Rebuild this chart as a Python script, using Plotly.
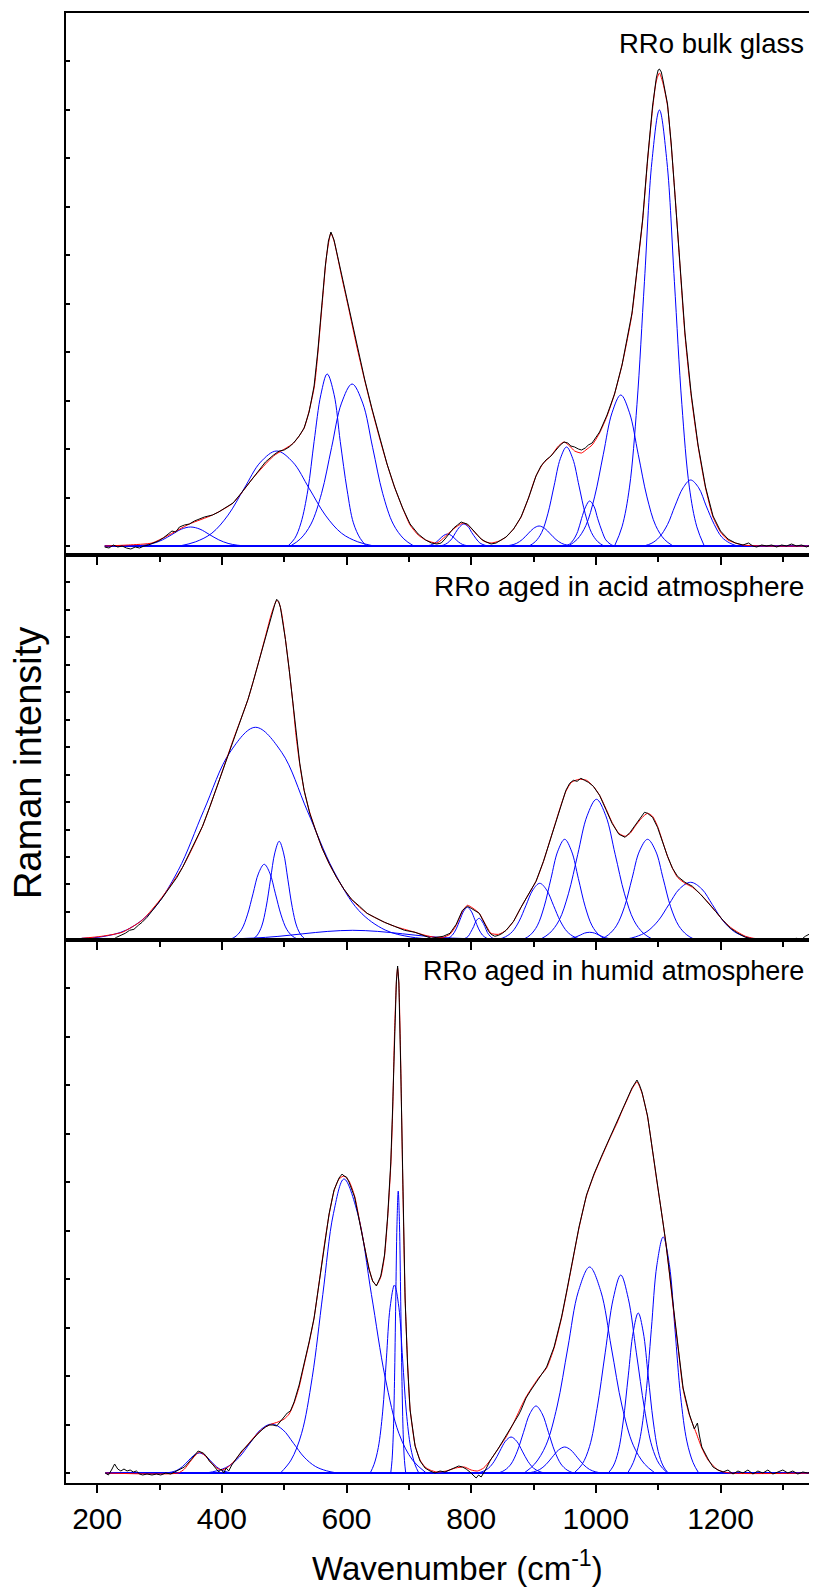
import plotly.graph_objects as go

# ---------------- data (x in cm-1, y in arbitrary intensity units) ----------------
X_TICKS = [200, 400, 600, 800, 1000, 1200]
PANEL_LABELS = ["RRo bulk glass", "RRo aged in acid atmosphere", "RRo aged in humid atmosphere"]

# ---- panel 1 : bulk glass ----
BULK_RAW = [(212,-1),(219,-2),(226,1),(233,-1),(240,0),(247,-2),(254,-3),(261,-1),(268,-2),(275,0),(282,1),(290,3),
            (298,5),(306,8),(312,11),(320,15),(326,14),(332,19),(340,21),(348,22),(356,25),(364,27),(372,29),(385,31),
            (395,34),(405,38),(418,43),(430,52),(440,60),(450,68),(460,76),(470,84),(483,91),(492,95),(500,96),(508,99),
            (515,103),(524,110),(532,118),(540,134),(548,160),(554,195),(560,238),(566,280),(571,305),(575,314),(580,306),
            (586,289),(592,271),(598,254),(604,237),(616,202),(629,167),(641,137),(653,109),(665,82),(677,59),(690,38),
            (702,22),(715,12),(727,6),(736,3),(745,2),(752,3),(758,7),(766,13),(772,18),(778,21),(784,24),(788,23),
            (794,22),(800,18),(808,12),(816,7),(824,4),(832,2),(840,3),(848,6),(856,9),(868,17),(880,29),(892,48),
            (904,70),(912,80),(920,86),(928,90),(936,96),(943,101),(949,104),(955,103),(960,100),(966,99),(972,97),
            (977,96),(983,98),(988,101),(994,103),(1006,114),(1018,131),(1030,152),(1042,181),(1050,207),(1058,233),
            (1066,276),(1075,326),(1083,387),(1091,440),(1097,468),(1100,476),(1102,477),(1105,474),(1108,465),
            (1115,442),(1121,402),(1128,345),(1135,282),(1143,213),(1153,152),(1164,101),(1176,59),(1188,30),
            (1200,15),(1212,7),(1224,3),(1236,1),(1245,3),(1252,0),(1258,-1),(1266,1),(1274,0),(1282,1),(1290,-1),
            (1298,1),(1306,0),(1314,2),(1322,0),(1330,1),(1338,-1),(1345,1),(1350,0)]
BULK_FIT = [(212,0),(250,1),(288,3),(312,10),(348,22),(385,31),(418,43),(450,68),(483,90),(515,103),(532,118),
            (548,158),(560,235),(568,290),(575,313),(580,305),(586,288),(592,270),(598,253),(604,236),(616,201),
            (629,166),(641,136),(653,108),(665,82),(677,59),(690,38),(702,21),(715,11),(727,6),(745,3),(766,14),
            (778,20),(788,23),(798,19),(808,12),(820,5),(832,3),(845,5),(856,9),(868,17),(880,29),(892,48),(904,70),
            (916,83),(928,90),(940,100),(949,104),(958,100),(966,95),(977,93),(986,97),(994,101),(1006,113),(1018,130),
            (1030,152),(1042,181),(1050,205),(1058,232),(1066,275),(1075,325),(1083,385),(1091,437),(1097,465),
            (1102,473),(1108,462),(1115,440),(1121,400),(1128,343),(1135,280),(1143,211),(1153,150),(1164,100),
            (1176,58),(1188,29),(1200,14),(1212,6),(1236,1),(1350,0)]
BULK_BANDS = [
    ([260,275,290,305,320,335,350,365,380,395,410,425,440],[0,0.8,2.6,6.2,11.5,16.8,19,16.8,11.5,6.2,2.6,0.8,0]),
    ([332,358,384,410,436,462,488,514,540,566,592,618,644],[0,4.2,12.8,30.9,57.7,83.8,95,83.8,57.7,30.9,12.8,4.2,0]),
    ([506,517,527,538,548,559,569,580,590,601,611,622,632],[0,7.6,23.2,55.9,104.4,151.7,172,151.7,104.4,55.9,23.2,7.6,0]),
    ([510,526,543,560,576,592,609,626,642,658,675,692,708],[0,7.1,21.9,52.7,98.3,142.9,162,142.9,98.3,52.7,21.9,7.1,0]),
    ([726,732,738,744,750,756,762,768,774,780,786,792,798],[0,0.5,1.6,3.9,7.3,10.6,12,10.6,7.3,3.9,1.6,0.5,0]),
    ([749,756,762,769,775,782,788,795,801,808,814,821,827],[0,1,3,7.2,13.4,19.4,22,19.4,13.4,7.2,3,1,0]),
    ([855,864,873,882,891,900,909,918,927,936,945,954,963],[0,0.9,2.7,6.5,12.1,17.6,20,17.6,12.1,6.5,2.7,0.9,0]),
    ([893,903,913,923,933,943,953,963,973,983,993,1003,1013],[0,4.4,13.4,32.2,60.1,87.3,99,87.3,60.1,32.2,13.4,4.4,0]),
    ([951,958,964,971,977,984,990,997,1003,1010,1016,1023,1029],[0,2,6.1,14.6,27.3,39.7,45,39.7,27.3,14.6,6.1,2,0]),
    ([956,970,984,998,1012,1026,1040,1054,1068,1082,1096,1110,1124],[0,6.6,20.4,49.1,91.7,133.2,151,133.2,91.7,49.1,20.4,6.6,0]),
    ([1030,1042,1054,1066,1078,1090,1102,1114,1126,1138,1150,1162,1174],[0,19.2,58.9,141.7,264.7,384.6,436,384.6,264.7,141.7,58.9,19.2,0]),
    ([1077,1090,1102,1115,1127,1140,1152,1165,1177,1190,1202,1215,1227],[0,2.9,8.9,21.5,40.1,58.2,66,58.2,40.1,21.5,8.9,2.9,0]),
]
BULK_BASE = [(212,0),(1350,0)]

# ---- panel 2 : aged in acid atmosphere ----
ACID_RAW = [(175,-2),(182,-3),(189,-1),(196,-4),(203,-2),(210,-3),(217,0),(224,-1),(231,2),(238,4),(245,6),(252,9),
            (259,10),(266,14),(272,17),(280,22),(288,28),(296,34),(304,41),(312,48),(320,55),(328,62),(337,72),(345,82),
            (353,92),(361,103),(369,113),(381,133),(393,154),(405,176),(418,199),(430,220),(442,240),(450,257),(458,275),
            (464,290),(470,303),(476,316),(481,328),(485,335),(488,340),(491,338),(494,332),(498,318),(502,300),(508,270),
            (514,236),(519,205),(525,176),(532,149),(541,126),(551,108),(561,91),(572,76),(584,62),(596,50),(608,40),
            (621,33),(633,26),(645,22),(661,17),(677,13),(693,9),(710,7),(726,3),(736,1),(745,2),(755,3),(766,6),
            (776,15),(786,29),(794,33),(800,31),(806,29),(813,26),(818,20),(822,15),(828,8),(832,5),(838,3),(844,4),
            (850,6),(856,9),(868,18),(880,32),(892,45),(904,58),(916,78),(928,102),(936,118),(944,134),(952,149),
            (958,156),(964,159),(970,158),(976,161),(982,159),(988,157),(996,153),(1006,144),(1016,130),(1026,116),
            (1037,105),(1047,102),(1055,107),(1063,114),(1071,121),(1078,127),(1083,126),(1091,122),(1099,112),
            (1107,97),(1115,83),(1123,71),(1131,63),(1143,57),(1155,53),(1168,45),(1180,37),(1192,28),(1204,19),
            (1216,11),(1228,6),(1240,2),(1253,0),(1262,-2),(1272,-1),(1282,-2),(1292,0),(1302,-1),(1312,0),(1322,1),
            (1330,0),(1336,3),(1342,5),(1350,6)]
ACID_FIT = [(175,1),(207,3),(240,7),(272,19),(304,42),(337,72),(369,113),(393,154),(418,199),(442,240),(458,275),
            (470,303),(478,322),(483,332),(488,339),(492,336),(496,326),(502,300),(508,270),(514,236),(519,204),
            (525,175),(532,149),(541,127),(551,108),(561,91),(572,76),(584,62),(596,50),(608,40),(621,32),(633,26),
            (645,22),(661,17),(677,13),(693,10),(710,7),(726,4),(742,2),(755,2),(766,5),(776,14),(786,28),(794,34),
            (803,31),(813,26),(822,16),(832,6),(844,5),(856,9),(868,18),(880,32),(892,45),(904,58),(916,78),(928,102),
            (936,118),(944,134),(952,148),(961,157),(973,160),(985,159),(996,153),(1006,144),(1016,131),(1026,117),
            (1037,106),(1047,103),(1055,106),(1063,113),(1073,121),(1083,126),(1091,123),(1099,113),(1107,98),
            (1115,83),(1123,71),(1131,62),(1143,56),(1155,52),(1168,45),(1180,37),(1192,28),(1204,19),(1216,12),
            (1228,7),(1240,3),(1253,1),(1277,0),(1350,0)]
ACID_BANDS = [
    ([175,205,247,288,330,371,413,454,496,537,579,620,662,703,745],[1,2.3,9.3,28.6,68.9,128.7,187,212,187,128.7,68.9,28.6,9.3,2.3,0]),
    ([414,423,432,441,450,459,468,477,486,495,504,513,522],[0,3.3,10.1,24.4,45.5,66.2,75,66.2,45.5,24.4,10.1,3.3,0]),
    ([450,457,464,471,478,485,492,499,506,513,520,527,534],[0,4.3,13.2,31.9,59.5,86.4,98,86.4,59.5,31.9,13.2,4.3,0]),
    ([370,410,450,490,530,570,610,650,690,730,770,810,850],[0,0.4,1.2,2.9,5.5,7.9,9,7.9,5.5,2.9,1.2,0.4,0]),
    ([758,764,770,776,782,788,794,800,806,812,818,824,830],[0,1.4,4.3,10.4,19.4,28.2,32,28.2,19.4,10.4,4.3,1.4,0]),
    ([786,790,795,799,804,808,813,817,822,826,831,835,840],[0,0.9,2.8,6.8,12.7,18.5,21,18.5,12.7,6.8,2.8,0.9,0]),
    ([844,855,866,877,888,899,910,921,932,943,954,965,976],[0,2.5,7.6,18.2,34,49.4,56,49.4,34,18.2,7.6,2.5,0]),
    ([884,895,906,917,928,939,950,961,972,983,994,1005,1016],[0,4.4,13.5,32.5,60.7,88.2,100,88.2,60.7,32.5,13.5,4.4,0]),
    ([911,926,941,956,971,986,1001,1016,1031,1046,1061,1076,1091],[0,6.2,18.9,45.5,85,123.5,140,123.5,85,45.5,18.9,6.2,0]),
    ([945,952,960,968,975,982,990,998,1005,1012,1020,1028,1035],[0,0.3,0.9,2.3,4.2,6.2,7,6.2,4.2,2.3,0.9,0.3,0]),
    ([1008,1020,1033,1046,1058,1070,1083,1096,1108,1120,1133,1146,1158],[0,4.4,13.5,32.5,60.7,88.2,100,88.2,60.7,32.5,13.5,4.4,0]),
    ([1047,1064,1082,1100,1117,1134,1152,1170,1187,1204,1222,1240,1257],[0,2.5,7.7,18.5,34.6,50.3,57,50.3,34.6,18.5,7.7,2.5,0]),
]
ACID_BASE = [(175,0),(1350,0)]

# ---- panel 3 : aged in humid atmosphere ----
HUMID_RAW = [(213,0),(218,-2),(223,3),(228,9),(233,4),(238,2),(243,4),(248,2),(253,3),(258,1),(263,2),(268,-1),
             (273,-2),(280,-1),(288,-2),(295,-1),(302,-2),(310,0),(318,-1),(325,1),(332,3),(340,6),(346,10),(352,15),
             (358,19),(362,22),(366,21),(370,20),(375,17),(380,12),(386,8),(391,4),(395,1),(399,4),(403,0),(407,5),
             (411,2),(416,8),(424,15),(432,22),(440,27),(448,33),(456,38),(464,43),(470,46),(476,48),(482,48),(488,47),
             (494,52),(500,57),(505,60),(510,62),(516,71),(524,88),(532,108),(540,131),(548,155),(556,190),(564,227),
             (572,259),(580,283),(588,295),(593,299),(596,297),(600,296),(604,291),(613,276),(621,251),(629,225),
             (636,204),(642,192),(648,187),(655,197),(661,218),(666,256),(671,310),(674,365),(677,440),(680,492),
             (682,507),(684,490),(687,405),(690,298),(694,175),(698,108),(702,63),(710,27),(718,12),(726,5),(734,2),
             (742,0),(750,2),(758,1),(766,3),(774,5),(780,7),(786,6),(792,4),(798,1),(804,-3),(808,-5),(812,-2),
             (816,-4),(822,2),(831,13),(843,24),(856,37),(868,50),(876,58),(880,63),(888,75),(896,83),(908,94),
             (921,106),(933,126),(945,156),(953,181),(961,207),(973,246),(985,278),(997,299),(1010,318),(1022,335),
             (1034,351),(1042,362),(1050,374),(1058,385),(1063,390),(1066,393),(1070,388),(1074,381),(1083,357),
             (1091,322),(1099,288),(1106,259),(1112,232),(1118,201),(1124,167),(1132,126),(1140,85),(1150,59),
             (1158,44),(1163,50),(1166,38),(1170,26),(1180,14),(1188,6),(1196,3),(1204,1),(1212,3),(1220,-1),
             (1228,2),(1236,0),(1244,3),(1252,-1),(1260,2),(1268,0),(1276,3),(1284,-1),(1292,1),(1300,3),(1308,0),
             (1316,2),(1324,-1),(1332,1),(1340,0),(1350,2)]
HUMID_FIT = [(213,0),(330,0),(340,4),(350,12),(358,18),(364,21),(372,18),(382,11),(392,5),(400,3),(410,6),(420,12),
             (432,21),(445,31),(458,40),(470,46),(480,49),(490,51),(500,54),(508,59),(516,70),(524,86),(532,108),
             (540,130),(548,155),(556,190),(564,226),(572,258),(580,282),(588,294),(596,297),(604,292),(613,277),
             (621,252),(629,226),(636,205),(642,192),(648,188),(655,196),(661,217),(666,255),(671,307),(674,360),
             (677,439),(680,490),(682,505),(684,490),(687,409),(690,300),(694,176),(698,110),(702,64),(710,28),
             (718,13),(726,6),(734,3),(745,1),(760,2),(775,5),(789,6),(800,3),(810,2),(820,5),(831,13),(843,24),
             (856,36),(868,50),(880,66),(888,76),(896,84),(908,95),(921,105),(933,125),(945,155),(953,180),(961,206),
             (973,245),(985,277),(997,298),(1010,317),(1022,334),(1034,350),(1042,362),(1050,373),(1058,384),
             (1066,391),(1074,380),(1083,356),(1091,322),(1099,287),(1106,258),(1112,231),(1118,200),(1124,166),
             (1132,125),(1140,84),(1150,58),(1161,40),(1170,25),(1180,13),(1196,3),(1215,0),(1350,0)]
HUMID_BANDS = [
    ([310,319,328,337,346,355,364,373,382,391,400,409,418],[0,0.9,2.7,6.5,12.1,17.6,20,17.6,12.1,6.5,2.7,0.9,0]),
    ([375,392,410,428,445,462,480,498,515,532,550,568,585],[0,2.2,6.6,15.9,29.7,43.2,49,43.2,29.7,15.9,6.6,2.2,0]),
    ([494,511,528,545,562,579,596,618,640,662,684,706,728],[0,12.9,39.7,95.6,178.5,259.3,294,259.3,178.5,95.6,39.7,12.9,0]),
    ([638,644,651,658,664,670,677,684,690,696,703,710,716],[0,8.3,25.4,61.1,114.1,165.8,188,165.8,114.1,61.1,25.4,8.3,0]),
    ([671,673,675,677,679,681,683,685,687,689,691,693,695],[0,12.4,38.1,91.7,171.2,248.7,282,248.7,171.2,91.7,38.1,12.4,0]),
    ([810,819,828,837,846,855,864,873,882,891,900,909,918],[0,1.6,4.9,11.7,21.9,31.8,36,31.8,21.9,11.7,4.9,1.6,0]),
    ([844,854,864,874,884,894,904,914,924,934,944,954,964],[0,2.9,9,21.8,40.7,59.1,67,59.1,40.7,21.8,9,2.9,0]),
    ([890,900,910,920,930,940,950,960,970,980,990,1000,1010],[0,1.1,3.5,8.5,15.8,22.9,26,22.9,15.8,8.5,3.5,1.1,0]),
    ([885,902,920,938,955,972,990,1008,1025,1042,1060,1078,1095],[0,9.1,27.8,67,125,181.7,206,181.7,125,67,27.8,9.1,0]),
    ([965,978,990,1002,1015,1028,1040,1052,1065,1078,1090,1102,1115],[0,8.7,26.7,64.4,120.2,174.6,198,174.6,120.2,64.4,26.7,8.7,0]),
    ([1020,1028,1036,1044,1052,1060,1068,1076,1084,1092,1100,1108,1116],[0,7,21.6,52,97.1,141.1,160,141.1,97.1,52,21.6,7,0]),
    ([1051,1060,1070,1080,1089,1098,1108,1118,1127,1136,1146,1156,1165],[0,10.4,31.9,76.7,143.3,208.2,236,208.2,143.3,76.7,31.9,10.4,0]),
]
HUMID_BASE = [(213,0),(1350,0)]

# ---------------- figure ----------------
FONT = "Liberation Sans, Arial, Helvetica, sans-serif"
BLUE, RED, BLACK = "#0000FF", "#FF0000", "#000000"

panels = [
    ("x", "y", BULK_RAW, BULK_FIT, BULK_BANDS, BULK_BASE),
    ("x2", "y2", ACID_RAW, ACID_FIT, ACID_BANDS, ACID_BASE),
    ("x3", "y3", HUMID_RAW, HUMID_FIT, HUMID_BANDS, HUMID_BASE),
]

fig = go.Figure()
for xa, ya, raw, fit, bands, base in panels:
    for bx, by in bands:
        fig.add_trace(go.Scatter(x=bx, y=by, mode="lines", xaxis=xa, yaxis=ya,
                                 line=dict(color=BLUE, width=1, shape="spline", smoothing=1.0),
                                 showlegend=False, hoverinfo="skip"))
    fig.add_trace(go.Scatter(x=[p[0] for p in base], y=[p[1] for p in base], mode="lines",
                             xaxis=xa, yaxis=ya, line=dict(color=BLUE, width=2),
                             showlegend=False, hoverinfo="skip"))
    fig.add_trace(go.Scatter(x=[p[0] for p in fit], y=[p[1] for p in fit], mode="lines",
                             xaxis=xa, yaxis=ya,
                             line=dict(color=RED, width=1, shape="spline", smoothing=0.6),
                             showlegend=False, hoverinfo="skip"))
    fig.add_trace(go.Scatter(x=[p[0] for p in raw], y=[p[1] for p in raw], mode="lines",
                             xaxis=xa, yaxis=ya, line=dict(color=BLACK, width=1),
                             showlegend=False, hoverinfo="skip"))

# page body has an 8 px margin: figure is placed at (8, 8) in the window
OFF = 8
W, H = 817 - OFF, 1589 - OFF
L, R, T, B = 66 - OFF, 0, 13 - OFF, 1589 - 1483
PH = H - T - B
PW = W - L - R
XR = [150, 150 + PW / 0.625]

def py(ref_y):   # window pixel row -> paper y
    return (1483 - ref_y) / PH

def px(ref_x):   # window pixel column -> paper x
    return (ref_x - 66) / PW

d1 = [py(555), 1.0]
d2 = [py(940), py(555)]
d3 = [0.0, py(940)]

def xaxis(anchor, labels):
    return dict(domain=[0, 1], anchor=anchor, range=XR, showline=True, linewidth=2, linecolor=BLACK,
                mirror=True, ticks="outside", ticklen=8, tickwidth=2, tickcolor=BLACK,
                tickmode="array", tickvals=X_TICKS, ticktext=[str(v) for v in X_TICKS],
                minor=dict(dtick=100, tick0=100, ticks="outside", ticklen=5, tickwidth=2, tickcolor=BLACK),
                showticklabels=labels, tickfont=dict(family=FONT, size=30, color=BLACK),
                showgrid=False, zeroline=False)

def yaxis(anchor, dom, rng, dt):
    return dict(domain=dom, anchor=anchor, range=rng, showline=True, linewidth=2, linecolor=BLACK,
                mirror=True, ticks="inside", ticklen=4, tickwidth=1.5, tickcolor=BLACK,
                tick0=0, dtick=dt, showticklabels=False, showgrid=False, zeroline=False)

fig.update_layout(
    width=W, height=H, margin=dict(l=L, r=R, t=T, b=B),
    paper_bgcolor="white", plot_bgcolor="white",
    xaxis=xaxis("y", False), xaxis2=xaxis("y2", False), xaxis3=xaxis("y3", True),
    yaxis=yaxis("x", d1, [-9, 533], 48.5),
    yaxis2=yaxis("x2", d2, [-0.7, 384.3], 27.45),
    yaxis3=yaxis("x3", d3, [-10, 533], 48.5),
    showlegend=False,
)

label_rows = [43, 586, 971]
label_sizes = [27.5, 28, 27]
for text, row, size in zip(PANEL_LABELS, label_rows, label_sizes):
    fig.add_annotation(text=text, xref="paper", yref="paper", x=px(808), y=py(row),
                       xanchor="right", yanchor="middle", showarrow=False,
                       font=dict(family=FONT, size=size, color=BLACK))

fig.add_annotation(text="Raman intensity", xref="paper", yref="paper", x=px(28), y=py(763),
                   textangle=-90, showarrow=False, xanchor="center", yanchor="middle",
                   font=dict(family=FONT, size=38, color=BLACK))
fig.add_annotation(text="Wavenumber (cm<sup>-1</sup>)", xref="paper", yref="paper", x=px(459),
                   y=py(1566), showarrow=False, xanchor="center", yanchor="middle",
                   font=dict(family=FONT, size=33, color=BLACK))

fig.write_html("out.html")
